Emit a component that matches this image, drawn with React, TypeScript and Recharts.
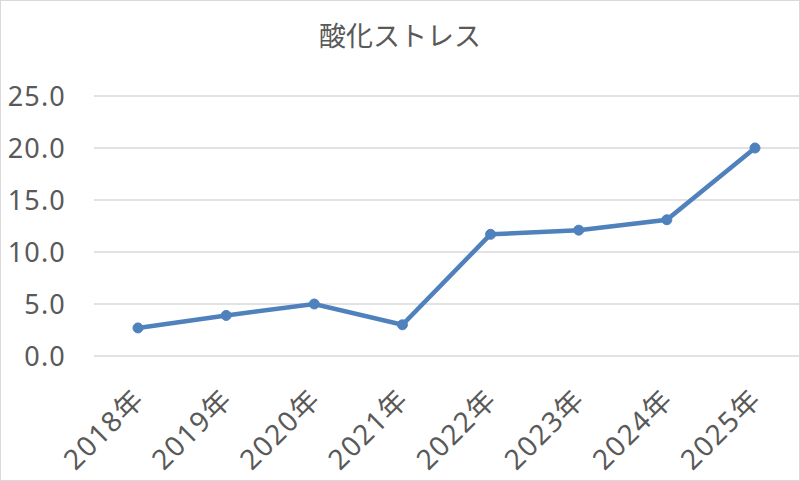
import React from 'react';
import { LineChart, Line, XAxis, YAxis, CartesianGrid } from 'recharts';

const years = ['2018年', '2019年', '2020年', '2021年', '2022年', '2023年', '2024年', '2025年'];
const stress = [2.7, 3.9, 5.0, 3.0, 11.7, 12.1, 13.1, 20.0];
const yTicks = [0, 5, 10, 15, 20, 25];

const data = years.map((year, i) => ({ year, value: stress[i] }));

const FONT = "'Noto Sans', 'Noto Sans CJK JP', sans-serif";
const TEXT = '#595959';

// rotated category labels, anchored at the end so they hang below-left of the point
const YearTick = (props: any) => {
  const { x, payload } = props;
  const tx = x + 8;
  const ty = 400;
  return (
    <text
      x={tx}
      y={ty}
      transform={`rotate(-45, ${tx}, ${ty})`}
      textAnchor="end"
      fill={TEXT}
      fontSize={28}
      letterSpacing={1.5}
      fontFamily={FONT}>
      {payload.value}
    </text>
  );
};

const App = () => {
  return (
    <div
      style={{
        position: 'absolute',
        left: 0,
        top: 0,
        width: 800,
        height: 481,
        boxSizing: 'border-box',
        border: '1px solid #d9d9d9',
        background: '#fff',
      }}>
      <div
        style={{
          position: 'absolute',
          top: 15,
          width: '100%',
          textAlign: 'center',
          fontFamily: FONT,
          fontSize: 27,
          color: TEXT,
          lineHeight: '40px',
        }}>
        酸化ストレス
      </div>
      <LineChart
        width={798}
        height={479}
        data={data}
        margin={{ top: 95, right: 0, left: 0, bottom: 0 }}>
        <CartesianGrid vertical={false} stroke="#d9d9d9" strokeWidth={1.5} />
        <XAxis
          dataKey="year"
          height={124}
          axisLine={false}
          tickLine={false}
          interval={0}
          padding={{ left: 44, right: 44 }}
          tick={<YearTick />}
        />
        <YAxis
          width={93}
          domain={[0, 25]}
          ticks={yTicks}
          axisLine={false}
          tickLine={false}
          tickSize={0}
          tickMargin={28}
          tickFormatter={(v: number) => v.toFixed(1)}
          tick={{ fill: TEXT, fontSize: 27, fontFamily: FONT, letterSpacing: 1.2 }}
        />
        <Line
          type="linear"
          dataKey="value"
          stroke="#4f81bd"
          strokeWidth={4.5}
          dot={{ r: 5, fill: '#4f81bd', stroke: '#4f81bd', strokeWidth: 1 }}
          isAnimationActive={false}
        />
      </LineChart>
    </div>
  );
};

export default App;
